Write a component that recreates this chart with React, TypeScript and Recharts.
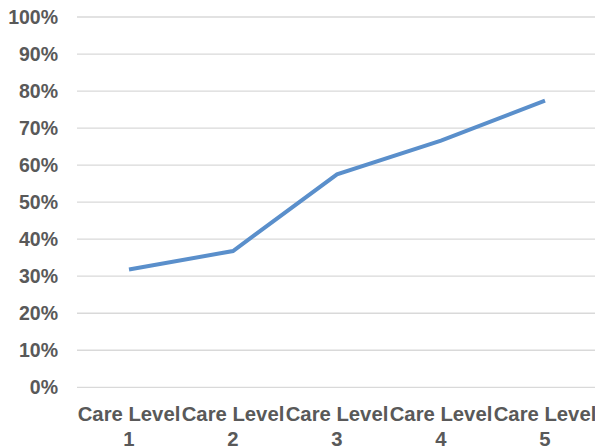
import React from 'react';
import { LineChart, Line, XAxis, YAxis, CartesianGrid } from 'recharts';

const levels = ['1', '2', '3', '4', '5'];
const shares = [0.318, 0.368, 0.575, 0.666, 0.774];
const yTicks = [0, 0.1, 0.2, 0.3, 0.4, 0.5, 0.6, 0.7, 0.8, 0.9, 1];

const data = levels.map((level, i) => ({ level, share: shares[i] }));

const FONT = '"Liberation Sans", Arial, sans-serif';
const TEXT = '#595959';

// eslint-disable-next-line @typescript-eslint/no-explicit-any
const LevelTick = ({ x, y, payload }: any) => (
  <g transform={`translate(${x},${y})`}>
    <text textAnchor="middle" fontFamily={FONT} fontWeight={700} fontSize={20.3} fill={TEXT}>
      <tspan x={0} dy={33.5}>Care Level</tspan>
      <tspan x={0} dy={25.5}>{payload.value}</tspan>
    </text>
  </g>
);

// eslint-disable-next-line @typescript-eslint/no-explicit-any
const PercentTick = ({ y, payload }: any) => (
  <text
    x={58}
    y={y}
    dy={7}
    textAnchor="end"
    fontFamily={FONT}
    fontWeight={700}
    fontSize={19.5}
    fill={TEXT}
  >
    {`${Math.round(payload.value * 100)}%`}
  </text>
);

export default function App() {
  return (
    <div
      style={{
        position: 'absolute',
        left: 0,
        top: 0,
        width: 595,
        height: 448,
        overflow: 'hidden',
        background: '#fff',
      }}
    >
      <LineChart
        width={597}
        height={448}
        data={data}
        margin={{ top: 17, right: 0, bottom: 0, left: 0 }}
      >
        <CartesianGrid vertical={false} stroke="#D9D9D9" strokeWidth={1.3} />
        <XAxis
          dataKey="level"
          axisLine={false}
          tickLine={false}
          tickSize={0}
          tickMargin={0}
          height={60.7}
          interval={0}
          padding={{ left: 52, right: 52 }}
          tick={<LevelTick />}
        />
        <YAxis
          domain={[0, 1]}
          ticks={yTicks}
          axisLine={false}
          tickLine={false}
          tickSize={0}
          width={77}
          interval={0}
          tick={<PercentTick />}
        />
        <Line
          type="linear"
          dataKey="share"
          stroke="#5A8FCB"
          strokeWidth={4}
          dot={false}
          activeDot={false}
          isAnimationActive={false}
        />
      </LineChart>
    </div>
  );
}
